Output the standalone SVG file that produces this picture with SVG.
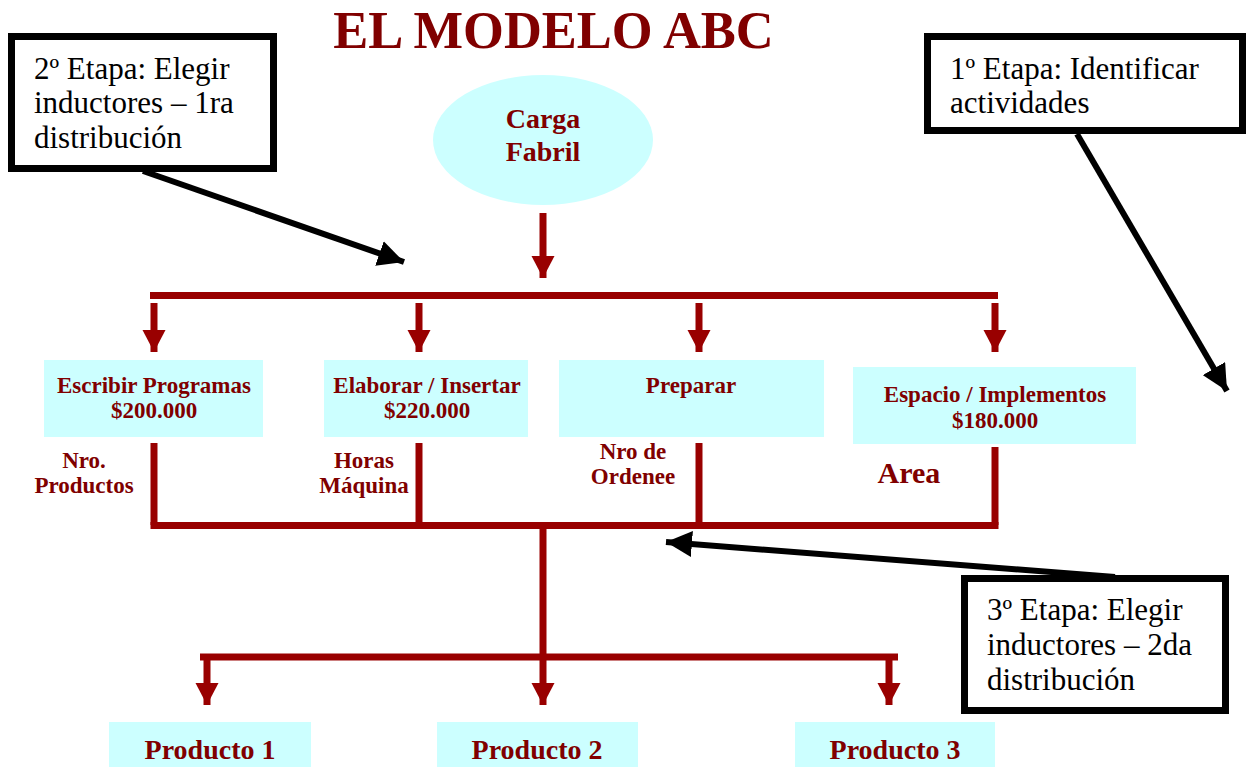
<svg xmlns="http://www.w3.org/2000/svg" width="1246" height="767" viewBox="0 0 1246 767">
  <defs>
    <marker id="redHead" markerUnits="userSpaceOnUse" markerWidth="24" markerHeight="24" refX="22" refY="11.5" orient="auto">
      <path d="M0,0 L22,11.5 L0,23 z" fill="#990000"/>
    </marker>
    <marker id="blackHead" markerUnits="userSpaceOnUse" markerWidth="28" markerHeight="26" refX="26" refY="13" orient="auto">
      <path d="M0,0 L26,13 L0,26 z" fill="#000"/>
    </marker>
  </defs>
  <style>
    .title { font-family: "Liberation Serif", "Times New Roman", serif; font-weight: bold; font-size: 52.5px; fill: #800000; text-anchor: middle; }
    .note { font-family: "Liberation Serif", "Times New Roman", serif; font-size: 31px; fill: #000; }
    .noteBox { fill: #fff; stroke: #000; stroke-width: 7; }
    .act { fill: #CCFFFF; }
    .lbl { font-family: "Liberation Serif", "Times New Roman", serif; font-weight: bold; font-size: 23px; fill: #800000; text-anchor: middle; }
    .big { font-size: 28px; }
    .area { font-size: 30px; }
    .bus { stroke: #990000; stroke-width: 7; fill: none; }
    .red { stroke: #990000; stroke-width: 7; fill: none; marker-end: url(#redHead); }
    .blk { stroke: #000; stroke-width: 6; fill: none; marker-end: url(#blackHead); }
  </style>

  <rect width="1246" height="767" fill="#fff"/>

  <text class="title" x="553.5" y="48">EL MODELO ABC</text>

  <g id="connectors">
    <line class="red" x1="543" y1="213" x2="543" y2="278"/>
    <line class="bus" x1="150" y1="295.5" x2="998" y2="295.5"/>
    <line class="red" x1="154" y1="303" x2="154" y2="352"/>
    <line class="red" x1="419" y1="303" x2="419" y2="352"/>
    <line class="red" x1="699" y1="303" x2="699" y2="352"/>
    <line class="red" x1="995" y1="303" x2="995" y2="352"/>
    <line class="bus" x1="154" y1="443" x2="154" y2="525"/>
    <line class="bus" x1="419" y1="443" x2="419" y2="525"/>
    <line class="bus" x1="699" y1="443" x2="699" y2="525"/>
    <line class="bus" x1="995" y1="447" x2="995" y2="525"/>
    <line class="bus" x1="150.5" y1="525.5" x2="998.5" y2="525.5"/>
    <line class="bus" x1="543" y1="525" x2="543" y2="657"/>
    <line class="bus" x1="200" y1="657" x2="898" y2="657"/>
    <line class="red" x1="207" y1="657" x2="207" y2="705"/>
    <line class="red" x1="543" y1="657" x2="543" y2="705"/>
    <line class="red" x1="889" y1="657" x2="889" y2="705"/>
    <line class="blk" x1="143" y1="171" x2="404" y2="262"/>
    <line class="blk" x1="1077" y1="134" x2="1227" y2="391"/>
    <line class="blk" x1="1115" y1="577" x2="666" y2="542"/>
  </g>

  <g id="stage2">
    <rect class="noteBox" x="11.5" y="36.5" width="262" height="132"/>
    <text class="note" x="34" y="79">2º Etapa: Elegir</text>
    <text class="note" x="34" y="113">inductores – 1ra</text>
    <text class="note" x="34" y="148">distribución</text>
  </g>

  <g id="stage1">
    <rect class="noteBox" x="927.5" y="36.5" width="315" height="94"/>
    <text class="note" x="950" y="79">1º Etapa: Identificar</text>
    <text class="note" x="950" y="113">actividades</text>
  </g>

  <g id="stage3">
    <rect class="noteBox" x="964.5" y="578.5" width="261" height="132"/>
    <text class="note" x="987" y="620">3º Etapa: Elegir</text>
    <text class="note" x="987" y="655">inductores – 2da</text>
    <text class="note" x="987" y="690">distribución</text>
  </g>

  <g id="carga-fabril">
    <ellipse class="act" cx="543" cy="140" rx="110" ry="65"/>
    <text class="lbl big" x="543" y="128">Carga</text>
    <text class="lbl big" x="543" y="161">Fabril</text>
  </g>

  <g id="escribir">
    <rect class="act" x="44" y="360" width="219" height="77"/>
    <text class="lbl" x="154" y="393">Escribir Programas</text>
    <text class="lbl" x="154" y="418">$200.000</text>
  </g>

  <g id="elaborar">
    <rect class="act" x="324" y="360" width="204" height="77"/>
    <text class="lbl" x="427" y="393">Elaborar / Insertar</text>
    <text class="lbl" x="427" y="418">$220.000</text>
  </g>

  <g id="preparar">
    <rect class="act" x="559" y="360" width="265" height="77"/>
    <text class="lbl" x="691" y="393">Preparar</text>
  </g>

  <g id="espacio">
    <rect class="act" x="853" y="367" width="283" height="77"/>
    <text class="lbl" x="995" y="402">Espacio / Implementos</text>
    <text class="lbl" x="995" y="428">$180.000</text>
  </g>

  <g id="drivers">
    <text class="lbl" x="84" y="468">Nro.</text>
    <text class="lbl" x="84" y="493">Productos</text>
    <text class="lbl" x="364" y="468">Horas</text>
    <text class="lbl" x="364" y="493">Máquina</text>
    <text class="lbl" x="633" y="459">Nro de</text>
    <text class="lbl" x="633" y="484">Ordenee</text>
    <text class="lbl area" x="909" y="483">Area</text>
  </g>

  <g id="producto1">
    <rect class="act" x="109" y="722" width="202" height="50"/>
    <text class="lbl big" x="210" y="759">Producto 1</text>
  </g>
  <g id="producto2">
    <rect class="act" x="437" y="722" width="201" height="50"/>
    <text class="lbl big" x="537" y="759">Producto 2</text>
  </g>
  <g id="producto3">
    <rect class="act" x="795" y="722" width="200" height="50"/>
    <text class="lbl big" x="895" y="759">Producto 3</text>
  </g>
</svg>
